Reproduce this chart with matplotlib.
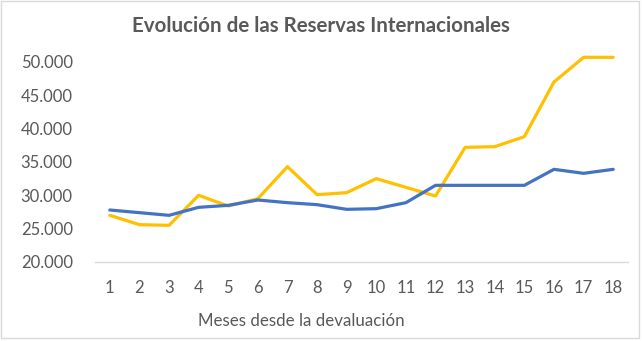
import matplotlib
matplotlib.use('Agg')
import matplotlib.pyplot as plt
from matplotlib.patches import Rectangle
from matplotlib.ticker import FuncFormatter

plt.rcParams['font.family'] = ['Lato', 'DejaVu Sans']

meses = list(range(1, 19))
reservas_amarillo = [27000, 25600, 25500, 30000, 28400, 29500, 34300, 30100, 30400,
                     32500, 31200, 29900, 37200, 37300, 38800, 47000, 50700, 50700]
reservas_azul = [27800, 27400, 27000, 28200, 28500, 29300, 28900, 28600, 27900,
                 28000, 28900, 31500, 31500, 31500, 31500, 33900, 33300, 33900]
y_ticks = [20000, 25000, 30000, 35000, 40000, 45000, 50000]

W, H = 643, 341
gris = '#595959'

fig = plt.figure(figsize=(W / 100, H / 100), dpi=100)
ax = fig.add_axes([95 / W, (H - 262) / H, (628 - 95) / W, 200 / H])

ax.plot(meses, reservas_amarillo, color='#FFC000', lw=2.3,
        solid_joinstyle='round', solid_capstyle='round', clip_on=False)
ax.plot(meses, reservas_azul, color='#4472C4', lw=2.3,
        solid_joinstyle='round', solid_capstyle='round', clip_on=False)

ax.set_xlim(0.5, 18.5)
ax.set_ylim(20000, 50000)
ax.set_xticks(meses)
ax.set_yticks(y_ticks)
ax.yaxis.set_major_formatter(FuncFormatter(lambda v, p: '{:,.0f}'.format(v).replace(',', '.')))

for s in ['top', 'right', 'left']:
    ax.spines[s].set_visible(False)
ax.spines['bottom'].set_color('#D9D9D9')
ax.spines['bottom'].set_linewidth(1.0)
ax.tick_params(axis='both', length=0, labelsize=12, colors=gris)
ax.tick_params(axis='y', pad=16)
ax.tick_params(axis='x', pad=13)

fig.text(321 / W, (H - 26) / H, 'Evolución de las Reservas Internacionales',
         ha='center', va='center', fontsize=14.8, fontweight='bold', color=gris)
fig.text(301 / W, (H - 321) / H, 'Meses desde la devaluación',
         ha='center', va='center', fontsize=12.2, color=gris)

fig.patches.append(Rectangle((1 / W, 3 / H), 638 / W, 337 / H, transform=fig.transFigure,
                             fill=False, edgecolor='#D9D9D9', lw=1.0))

plt.savefig('out.png', dpi=100)
